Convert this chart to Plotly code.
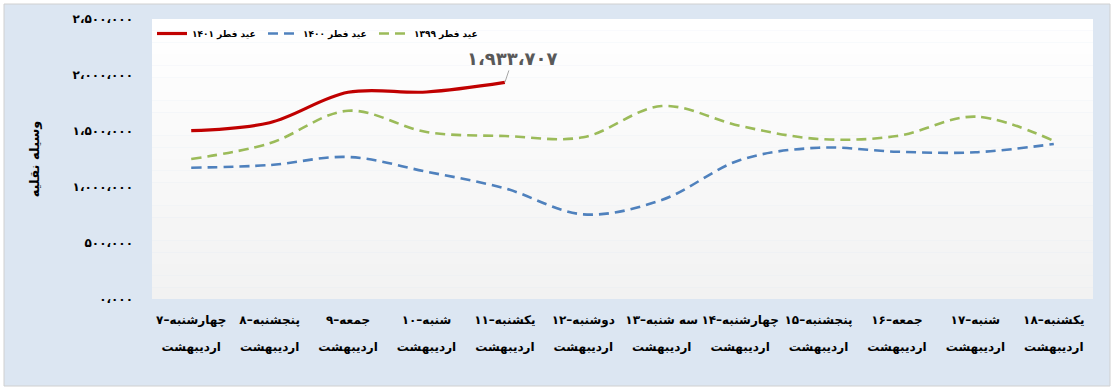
import plotly.graph_objects as go

# ---------------- data ----------------
categories = ["d07", "d08", "d09", "d10", "d11", "d12", "d13", "d14", "d15", "d16", "d17", "d18"]
day_labels = ["چهارشنبه", "پنجشنبه", "جمعه", "شنبه", "یکشنبه", "دوشنبه",
              "سه شنبه", "چهارشنبه", "پنجشنبه", "جمعه", "شنبه", "یکشنبه"]
day_numbers = ["۷", "۸", "۹", "۱۰", "۱۱", "۱۲", "۱۳", "۱۴", "۱۵", "۱۶", "۱۷", "۱۸"]
month_label = "اردیبهشت"

series_1401 = [1503000, 1574000, 1846000, 1848000, 1933707]
series_1400 = [1172000, 1196000, 1268000, 1137000, 988000, 756000, 884000,
               1241000, 1351000, 1315000, 1310000, 1384000]
series_1399 = [1250000, 1390000, 1681000, 1491000, 1455000, 1444000, 1723000,
               1545000, 1429000, 1455000, 1628000, 1411000]

name_1401 = "عید فطر ۱۴۰۱"
name_1400 = "عید فطر ۱۴۰۰"
name_1399 = "عید فطر ۱۳۹۹"

y_tickvals = [0, 500000, 1000000, 1500000, 2000000, 2500000]
y_ticktext = ["۰،۰۰۰", "۵۰۰،۰۰۰", "۱،۰۰۰،۰۰۰", "۱،۵۰۰،۰۰۰", "۲،۰۰۰،۰۰۰", "۲،۵۰۰،۰۰۰"]
y_title = "وسیله نقلیه"

# ---------------- helpers ----------------
PERSIAN = str.maketrans("0123456789,", "۰۱۲۳۴۵۶۷۸۹،")


def fa_number(v):
    return f"{v:,}".translate(PERSIAN)


x_line1 = [d + "–" + n for d, n in zip(day_labels, day_numbers)]
x_line2 = [month_label] * len(categories)

FONT = "DejaVu Sans"

fig = go.Figure()

fig.add_trace(go.Scatter(
    x=categories[:len(series_1401)], y=series_1401, name=name_1401, mode="lines",
    line=dict(color="#c00000", width=3.2, shape="spline", smoothing=1.0),
))
fig.add_trace(go.Scatter(
    x=categories, y=series_1400, name=name_1400, mode="lines",
    line=dict(color="#4f81bd", width=2.6, shape="spline", smoothing=1.0, dash="10px,6px"),
))
fig.add_trace(go.Scatter(
    x=categories, y=series_1399, name=name_1399, mode="lines",
    line=dict(color="#9bbb59", width=2.6, shape="spline", smoothing=1.0, dash="10px,6px"),
))
fig.add_trace(go.Scatter(
    x=categories, y=[None] * len(categories), xaxis="x2", mode="lines",
    showlegend=False, hoverinfo="skip",
))

fig.add_annotation(
    x=categories[len(series_1401) - 1], y=series_1401[-1],
    text=fa_number(series_1401[-1]),
    showarrow=True, arrowhead=0, arrowwidth=1, arrowcolor="#a6a6a6",
    ax=8, ay=-24,
    font=dict(family=FONT, size=18, color="#595959", weight="bold"),
)

L, R, T, B = 152, 25, 19, 91
W, H = 1118, 390
pw, ph = W - L - R, H - T - B


def px_x(x):
    return (x - L) / pw


def px_y(y):
    return (H - B - y) / ph


shapes = [dict(type="rect", xref="paper", yref="paper", layer="below",
               x0=px_x(4), x1=px_x(1110), y0=px_y(386), y1=px_y(4),
               fillcolor="#dce6f2", line=dict(color="#d0d0d0", width=1))]
nb = 24
for i in range(nb):
    t = i / (nb - 1)
    c = int(round(0xf2 + (0xff - 0xf2) * t))
    shapes.append(dict(type="rect", xref="paper", yref="paper", layer="below",
                       x0=0, x1=1, y0=i / nb, y1=(i + 1) / nb,
                       fillcolor=f"rgb({c},{c},{c})", line=dict(width=0)))

tick_font = dict(family=FONT, size=12, color="black", weight="bold")
x_range = [-0.5, len(categories) - 0.5]

fig.update_layout(
    width=W, height=H,
    margin=dict(l=L, r=R, t=T, b=B, autoexpand=False),
    paper_bgcolor="white",
    plot_bgcolor="rgba(0,0,0,0)",
    shapes=shapes,
    font=dict(family=FONT, color="black"),
    showlegend=True,
    legend=dict(orientation="h", x=0.0, y=1.0, xanchor="left", yanchor="top",
                bgcolor="rgba(0,0,0,0)", traceorder="normal",
                font=dict(family=FONT, size=9, color="black", weight="bold"),
                itemwidth=30, entrywidth=66, entrywidthmode="pixels"),
    xaxis=dict(type="category", categoryorder="array", categoryarray=categories,
               range=x_range,
               tickmode="array", tickvals=categories, ticktext=x_line1,
               showgrid=False, zeroline=False, showline=False, ticks="",
               automargin=False, ticklabelstandoff=12, tickfont=tick_font),
    xaxis2=dict(type="category", categoryorder="array", categoryarray=categories,
                matches="x", overlaying="x", anchor="y", side="bottom",
                tickmode="array", tickvals=categories, ticktext=x_line2,
                showgrid=False, zeroline=False, showline=False, ticks="",
                automargin=False, ticklabelstandoff=39, tickfont=tick_font),
    yaxis=dict(range=[0, 2500000], tickmode="array", tickvals=y_tickvals, ticktext=y_ticktext,
               showgrid=False, zeroline=False, showline=False, ticks="",
               automargin=False, ticklabelstandoff=18, tickfont=tick_font,
               title=dict(text=y_title, standoff=30,
                          font=dict(family=FONT, size=13, color="black", weight="bold"))),
)

fig.write_html("out.html", config={"displayModeBar": False},
               post_script="document.body.style.margin='0';")
